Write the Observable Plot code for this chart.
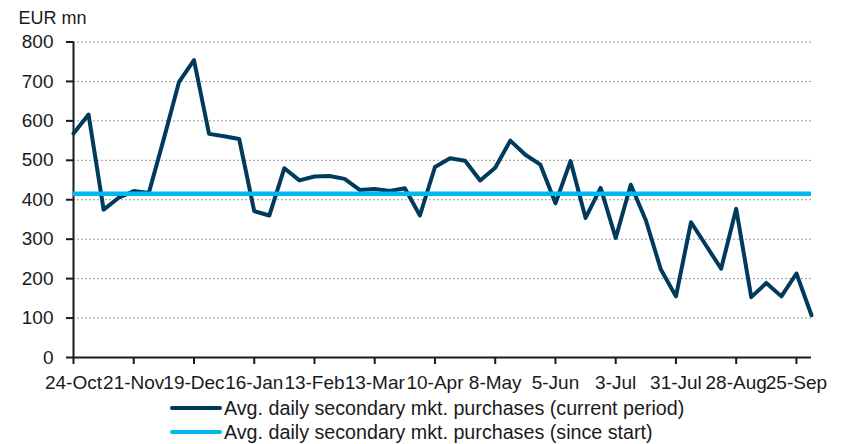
<!DOCTYPE html>
<html>
<head>
<meta charset="utf-8">
<script src="https://cdn.jsdelivr.net/npm/d3@7"></script>
<script src="https://cdn.jsdelivr.net/npm/@observablehq/plot@0.6"></script>
<style>
  html, body { margin: 0; padding: 0; background: #fff; }
  body { width: 841px; height: 444px; position: relative; overflow: hidden; font-family: "Liberation Sans", Arial, sans-serif; color: #1a1a1a; }
  #chart { position: absolute; left: 0; top: 0; }
  .leg { position: absolute; left: 170px; height: 24px; display: flex; align-items: center; font-size: 19.7px; white-space: nowrap; }
  .sw { width: 52px; height: 4px; border-radius: 2px; margin-right: 2px; }
</style>
</head>
<body>
<div id="chart"></div>
<div class="leg" style="top:396px"><div class="sw" style="background:#003a5d"></div><span>Avg. daily secondary mkt. purchases (current period)</span></div>
<div class="leg" style="top:420px"><div class="sw" style="background:#00b8f0"></div><span>Avg. daily secondary mkt. purchases (since start)</span></div>
<script>
// Weekly observations, first week 24-Oct
const tickLabels = ["24-Oct","21-Nov","19-Dec","16-Jan","13-Feb","13-Mar","10-Apr","8-May","5-Jun","3-Jul","31-Jul","28-Aug","25-Sep"];
const currentPeriod = [568,616,375,405,422,417,555,698,754,567,561,554,371,360,480,449,459,460,453,425,427,422,429,360,483,505,499,449,481,550,514,489,391,498,354,430,303,438,348,223,155,343,284,225,377,153,189,155,213,107];
const sinceStart = 415;
const yTicks = [0,100,200,300,400,500,600,700,800];
const unitLabel = "EUR mn";
const seriesColors = {current: "#003a5d", since: "#00b8f0"};

const data = currentPeriod.map((v, i) => ({week: i, value: v}));
const lastWeek = currentPeriod.length - 1;
const tickIdx = tickLabels.map((_, k) => k * 4);

const chart = Plot.plot({
  width: 841,
  height: 396,
  marginLeft: 73,
  marginRight: 30,
  marginTop: 41.5,
  marginBottom: 39,
  style: {fontFamily: '"Liberation Sans", Arial, sans-serif', fontSize: "19px", color: "#1a1a1a", background: "#fff"},
  x: {domain: [0, lastWeek], axis: null},
  y: {domain: [0, 800], axis: null},
  marks: [
    Plot.gridY(yTicks.filter(d => d > 0), {stroke: "#9a9a9a", strokeOpacity: 1, strokeWidth: 1, strokeDasharray: "2,2"}),
    Plot.axisY({ticks: yTicks, label: null, tickSize: 7, tickPadding: 13, stroke: "#1a1a1a", strokeWidth: 2, fontSize: 19, fill: "#1a1a1a"}),
    Plot.axisX({ticks: tickIdx, label: null, tickFormat: i => tickLabels[i / 4], tickSize: 7, tickPadding: 11, stroke: "#1a1a1a", strokeWidth: 2, fontSize: 19, fill: "#1a1a1a"}),
    Plot.ruleX([0], {stroke: "#1a1a1a", strokeWidth: 2}),
    Plot.ruleY([0], {stroke: "#1a1a1a", strokeWidth: 2}),
    Plot.lineY(data, {x: "week", y: "value", stroke: seriesColors.current, strokeWidth: 4}),
    Plot.ruleY([sinceStart], {x1: 0, x2: lastWeek, stroke: seriesColors.since, strokeWidth: 4.5}),
    Plot.text([unitLabel], {frameAnchor: "top-left", text: d => d, dx: -55, dy: -24, textAnchor: "start", lineAnchor: "middle", fontSize: 18, fill: "#1a1a1a"})
  ]
});
document.getElementById("chart").appendChild(chart);
</script>
</body>
</html>
